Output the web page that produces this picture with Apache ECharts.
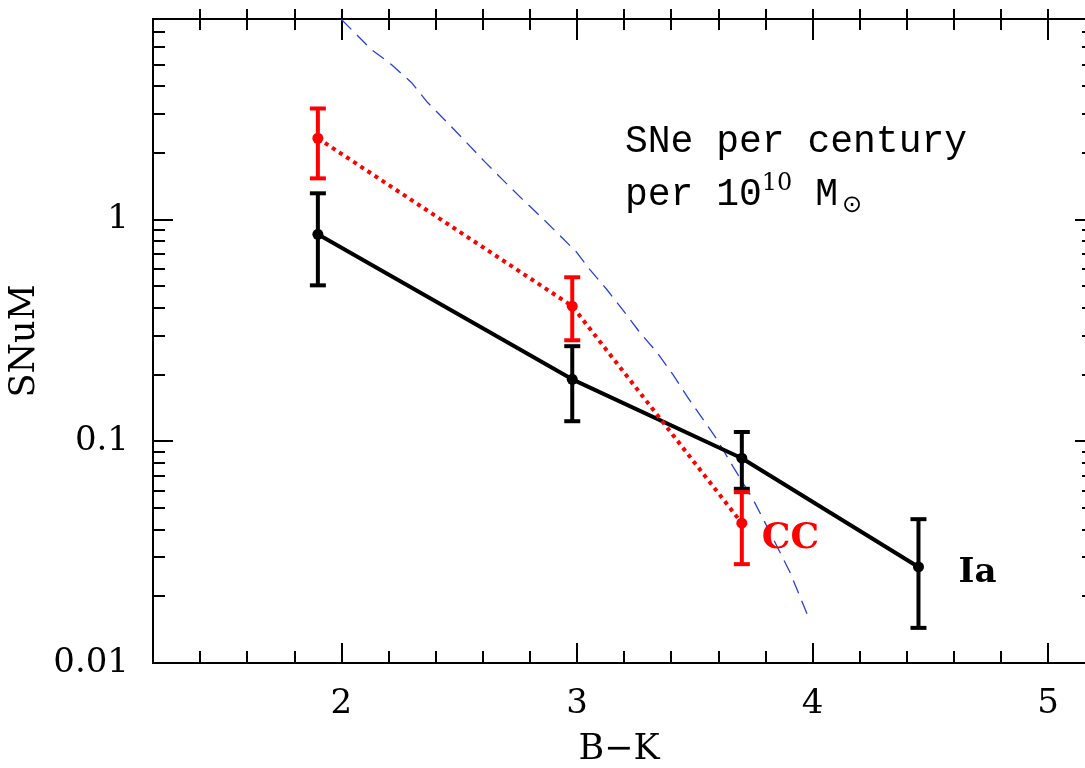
<!DOCTYPE html>
<html>
<head>
<meta charset="utf-8">
<script src="https://cdn.jsdelivr.net/npm/echarts@6/dist/echarts.min.js"></script>
<style>
  html, body { margin: 0; padding: 0; background: #fff; }
  #main { width: 1085px; height: 768px; }
</style>
</head>
<body>
<div id="main"></div>
<script>
// Ia rates per colour bin
let iaX = [1.9, 2.98, 3.7, 4.45];
let iaRate = [0.856, 0.19, 0.0838, 0.0271];
let iaLow = [0.504, 0.123, 0.061, 0.0144];
let iaHigh = [1.31, 0.268, 0.110, 0.0445];

// core collapse rates
let ccX = [1.9, 2.98, 3.7];
let ccRate = [2.32, 0.406, 0.0427];
let ccLow = [1.53, 0.285, 0.0279];
let ccHigh = [3.16, 0.548, 0.0589];

// dashed model curve
let modelX = [2.00, 2.127, 2.212, 2.297, 2.365, 2.45, 2.531, 2.608, 2.684, 2.769, 2.85, 2.935, 2.999,
  3.054, 3.126, 3.215, 3.266, 3.339, 3.407, 3.466, 3.534, 3.594, 3.662, 3.747, 3.819, 3.904, 3.989];
let modelY = [7.96, 5.83, 4.99, 4.14, 3.37, 2.73, 2.22, 1.82, 1.51, 1.23, 1.02, 0.83, 0.71,
  0.595, 0.484, 0.366, 0.310, 0.252, 0.200, 0.160, 0.126, 0.102, 0.077, 0.0548, 0.0389, 0.0257, 0.0155];

// ticks
let xMajor = [2, 3, 4, 5];
let xMinor = [1.4, 1.6, 1.8, 2.2, 2.4, 2.6, 2.8, 3.2, 3.4, 3.6, 3.8, 4.2, 4.4, 4.6, 4.8, 5.0];
let yMajor = [0.01, 0.1, 1];
let yMinor = [0.02, 0.03, 0.04, 0.05, 0.06, 0.07, 0.08, 0.09, 0.2, 0.3, 0.4, 0.5, 0.6, 0.7, 0.8, 0.9,
  2, 3, 4, 5, 6, 7];

const serif = 'DejaVu Serif';
const mono = 'Liberation Mono';

let pairs = (xs, ys) => xs.map((x, i) => [x, ys[i]]);
let bars = (xs, lo, hi) => xs.map((x, i) => [x, lo[i], hi[i]]);

function errorBar(color) {
    return function (params, api) {
        let p1 = api.coord([api.value(0), api.value(1)]);
        let p2 = api.coord([api.value(0), api.value(2)]);
        let w = 8;
        let st = { stroke: color, lineWidth: 4 };
        return {
            type: 'group',
            children: [
                { type: 'line', shape: { x1: p1[0], y1: p1[1], x2: p2[0], y2: p2[1] }, style: st },
                { type: 'line', shape: { x1: p1[0] - w, y1: p1[1], x2: p1[0] + w, y2: p1[1] }, style: st },
                { type: 'line', shape: { x1: p2[0] - w, y1: p2[1], x2: p2[0] + w, y2: p2[1] }, style: st }
            ]
        };
    };
}

// the frame runs a little past the right edge of the picture
let gridBox = { left: 153, top: 19, right: 0, height: 644, outerBoundsMode: 'none', containLabel: false };
let lineStyle = { color: '#000', width: 2 };
let off = { show: false };

function xAx(grid, pos, ticks, len, inside, extra) {
    return Object.assign({
        type: 'value', gridIndex: grid, position: pos, min: 1.2, max: 5.157,
        axisLine: { show: true, lineStyle: lineStyle },
        axisTick: { show: true, customValues: ticks, inside: inside, length: len, lineStyle: lineStyle },
        axisLabel: off, splitLine: off
    }, extra || {});
}
function yAx(grid, pos, ticks, len, extra) {
    return Object.assign({
        type: 'log', logBase: 10, gridIndex: grid, position: pos, min: 0.01, max: 8,
        axisLine: { show: pos === 'left', lineStyle: lineStyle },
        axisTick: { show: true, customValues: ticks, inside: true, length: len, lineStyle: lineStyle },
        axisLabel: off, splitLine: off
    }, extra || {});
}

let chart = echarts.init(document.getElementById('main'));
let option = {
    backgroundColor: '#fff',
    animation: false,
    grid: [gridBox, gridBox, gridBox],
    xAxis: [
        xAx(0, 'bottom', xMajor, 20, true, {
            axisLabel: {
                show: true, customValues: xMajor, margin: 24,
                fontFamily: serif, fontSize: 34, color: '#000'
            },
            name: 'B\u2212K', nameLocation: 'middle', nameGap: 69,
            nameTextStyle: { fontFamily: serif, fontSize: 35, color: '#000' }
        }),
        xAx(0, 'top', xMajor, 21, true),
        xAx(1, 'bottom', xMinor, 12, true),
        xAx(1, 'top', xMinor, 11, true),
        xAx(2, 'top', xMajor.concat(xMinor), 10, false)
    ],
    yAxis: [
        yAx(0, 'left', yMajor, 20, {
            axisLabel: {
                show: true, customValues: yMajor, margin: 24,
                fontFamily: serif, fontSize: 34, color: '#000',
                formatter: v => String(v)
            },
            name: 'SNuM', nameLocation: 'middle', nameGap: 96, nameRotate: 90,
            nameTextStyle: { fontFamily: serif, fontSize: 35, color: '#000' }
        }),
        yAx(0, 'right', yMajor, 10),
        yAx(1, 'left', yMinor, 12),
        yAx(1, 'right', yMinor, 3),
        yAx(2, 'left', [], 1, { show: false })
    ],
    graphic: [
        {
            type: 'text', left: 625, top: 123,
            style: { text: 'SNe per century', fontFamily: mono, fontSize: 38, fill: '#000' }
        },
        {
            type: 'text', left: 625, top: 172,
            style: {
                text: '{t|per 10}{sup|10}{t| M}{sub|\u2299}',
                rich: {
                    t: { fontFamily: mono, fontSize: 38, lineHeight: 46, fill: '#000' },
                    sup: { fontFamily: serif, fontSize: 24, verticalAlign: 'top', fill: '#000' },
                    sub: { fontFamily: 'DejaVu Sans', fontSize: 24, verticalAlign: 'bottom', padding: [0, 0, 0, 4], fill: '#000' }
                }
            }
        }
    ],
    series: [
        {
            name: 'model', type: 'line', xAxisIndex: 0, yAxisIndex: 0, z: 1,
            data: pairs(modelX, modelY), showSymbol: false, symbol: 'none',
            lineStyle: { color: '#2b40d4', width: 1.3, type: [14, 8] }
        },
        {
            name: 'Ia err', type: 'custom', xAxisIndex: 0, yAxisIndex: 0, z: 2,
            data: bars(iaX, iaLow, iaHigh), renderItem: errorBar('#000'),
            encode: { x: 0, y: [1, 2] }
        },
        {
            name: 'Ia', type: 'line', xAxisIndex: 0, yAxisIndex: 0, z: 2,
            data: pairs(iaX, iaRate), symbol: 'circle', symbolSize: 11,
            itemStyle: { color: '#000' }, lineStyle: { color: '#000', width: 4 },
            endLabel: {
                show: true, formatter: 'Ia', distance: 40, offset: [0, 6],
                fontFamily: serif, fontWeight: 'bold', fontSize: 34, color: '#000'
            }
        },
        {
            name: 'CC err', type: 'custom', xAxisIndex: 0, yAxisIndex: 0, z: 3,
            data: bars(ccX, ccLow, ccHigh), renderItem: errorBar('#ff0000'),
            encode: { x: 0, y: [1, 2] }
        },
        {
            name: 'CC', type: 'line', xAxisIndex: 0, yAxisIndex: 0, z: 3,
            data: pairs(ccX, ccRate), symbol: 'circle', symbolSize: 11,
            itemStyle: { color: '#ff0000' },
            lineStyle: { color: '#ff0000', width: 4, type: [4, 4.5] },
            endLabel: {
                show: true, formatter: 'CC', distance: 20, offset: [0, 15],
                fontFamily: serif, fontWeight: 'bold', fontSize: 36, color: '#ff0000'
            }
        }
    ]
};
chart.setOption(option);
</script>
</body>
</html>
